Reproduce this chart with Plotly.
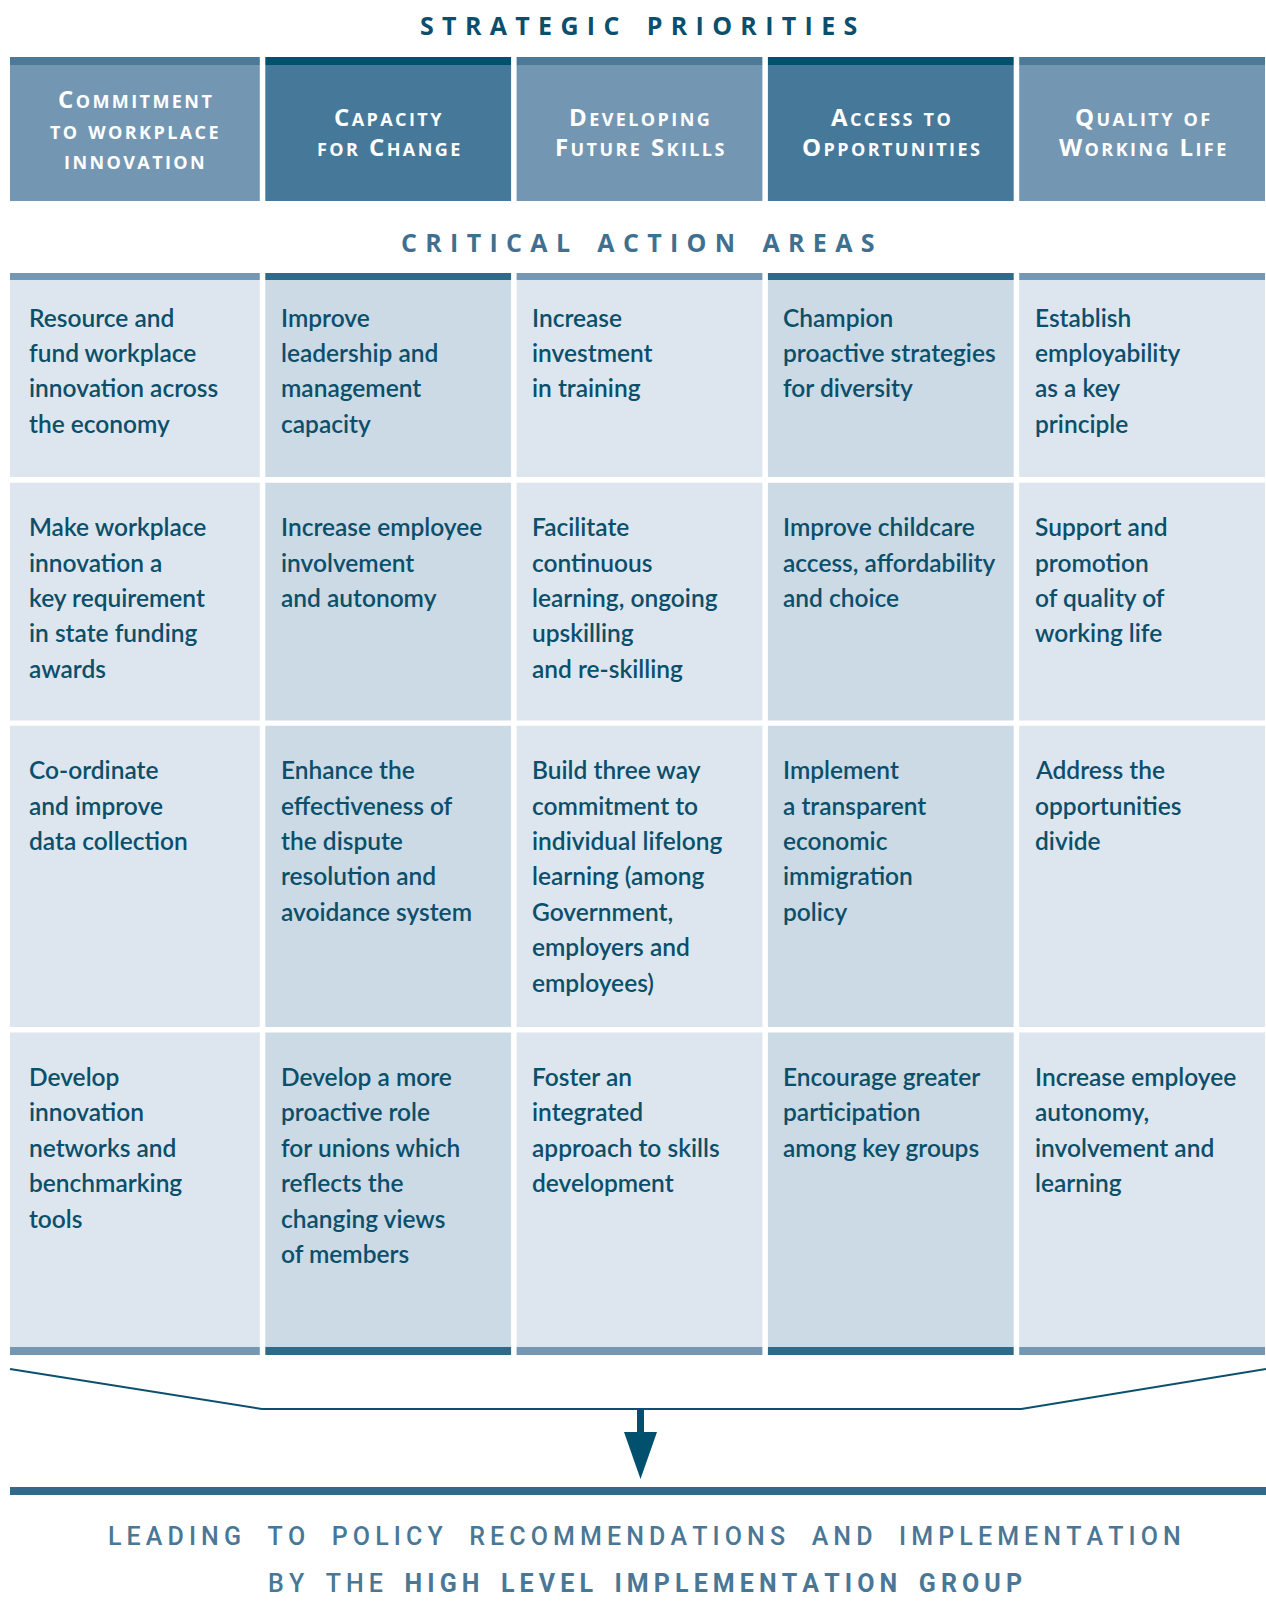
import plotly.graph_objects as go

# ---------------- data ----------------
title_top = "STRATEGIC PRIORITIES"
title_mid = "CRITICAL ACTION AREAS"
footer_line1 = "LEADING TO POLICY RECOMMENDATIONS AND IMPLEMENTATION"
footer_line2_plain = "BY THE"
footer_line2_bold = "HIGH LEVEL IMPLEMENTATION GROUP"

priorities = [
    ["Commitment", "to workplace", "innovation"],
    ["Capacity", "for Change"],
    ["Developing", "Future Skills"],
    ["Access to", "Opportunities"],
    ["Quality of", "Working Life"],
]

actions_workplace_innovation = [
    ["Resource and", "fund workplace", "innovation across", "the economy"],
    ["Make workplace", "innovation a", "key requirement", "in state funding", "awards"],
    ["Co-ordinate", "and improve", "data collection"],
    ["Develop", "innovation", "networks and", "benchmarking", "tools"],
]
actions_capacity_change = [
    ["Improve", "leadership and", "management", "capacity"],
    ["Increase employee", "involvement", "and autonomy"],
    ["Enhance the", "effectiveness of", "the dispute", "resolution and", "avoidance system"],
    ["Develop a more", "proactive role", "for unions which", "reflects the", "changing views", "of members"],
]
actions_future_skills = [
    ["Increase", "investment", "in training"],
    ["Facilitate", "continuous", "learning, ongoing", "upskilling", "and re-skilling"],
    ["Build three way", "commitment to", "individual lifelong", "learning (among", "Government,", "employers and", "employees)"],
    ["Foster an", "integrated", "approach to skills", "development"],
]
actions_access = [
    ["Champion", "proactive strategies", "for diversity"],
    ["Improve childcare", "access, affordability", "and choice"],
    ["Implement", "a transparent", "economic", "immigration", "policy"],
    ["Encourage greater", "participation", "among key groups"],
]
actions_quality = [
    ["Establish", "employability", "as a key", "principle"],
    ["Support and", "promotion", "of quality of", "working life"],
    ["Address the", "opportunities", "divide"],
    ["Increase employee", "autonomy,", "involvement and", "learning"],
]
columns_actions = [actions_workplace_innovation, actions_capacity_change,
                   actions_future_skills, actions_access, actions_quality]
column_tone = ["light", "dark", "light", "dark", "light"]

# ---------------- styling / layout ----------------
W, H = 1266, 1621
HEAD = {"light": "#7397b3", "dark": "#46789a"}
HEAD_BAR = {"light": "#4b7a99", "dark": "#01506e"}
CELL = {"light": "#dde6ee", "dark": "#cbdae5"}
CELL_BAR = {"light": "#7498b3", "dark": "#306a8a"}
TEXT = "#0b4f6b"
TITLE1 = "#0b4f6c"
TITLE2 = "#3f7090"
FOOT = "#4a7796"
BODY_FONT = "Lato"
HEAD_FONT = "Open Sans"

pitch, colw, first_left = 251.3, 245.8, 14.0
lefts = [first_left + i * pitch for i in range(5)]
rights = [l + colw for l in lefts]
lefts[0] = 10.0

head_bar = (57, 65)
head_body = (65, 201)
body_bar = (273, 280)
rows = [(280, 477), (482.7, 720.5), (725.7, 1027), (1032.5, 1347)]
row_text_top = [273, 482.7, 725.7, 1032.5]
bottom_bar = (1347, 1355)
line_gap = 35.4
first_line_off = 44

shapes = []
annotations = []


def rect(x0, x1, y0, y1, color):
    shapes.append(dict(type="rect", xref="x", yref="y", x0=x0, x1=x1, y0=y0, y1=y1,
                       fillcolor=color, line=dict(width=0), layer="below"))


def spaced(s, gap="\u2009", word="\u2009\u2009 \u2009\u2009"):
    return word.join(gap.join(list(w)) for w in s.split(" "))


def small_caps(s, big=24, small=18, gap="\u200a"):
    out = []
    for w in s.split(" "):
        parts = []
        for ch in w:
            if ch.isupper():
                parts.append(f'<span style="font-size:{big}px">{ch}</span>')
            else:
                parts.append(f'<span style="font-size:{small}px">{ch.upper()}</span>')
        out.append(gap.join(parts))
    return (gap + " " + gap).join(out)


for i in range(5):
    tone = column_tone[i]
    L, R = lefts[i], rights[i]
    rect(L, R, *head_bar, HEAD_BAR[tone])
    rect(L, R, *head_body, HEAD[tone])
    rect(L, R, *body_bar, CELL_BAR[tone])
    for (y0, y1) in rows:
        rect(L, R, y0, y1, CELL[tone])
    rect(L, R, *bottom_bar, CELL_BAR[tone])

    # header text
    lines = priorities[i]
    cx = (L + R) / 2 if i > 0 else (first_left + R) / 2 - 2
    n = len(lines)
    hc, hs = (129, 30.3) if n == 3 else (131.5, 29.5)
    for k, t in enumerate(lines):
        annotations.append(dict(x=cx, y=hc + (k - (n - 1) / 2) * hs, text=small_caps(t), showarrow=False,
                                xanchor="center", yanchor="middle",
                                font=dict(family=HEAD_FONT, size=24, color="white", weight="bold")))
    # body text
    tx = (lefts[i] if i > 0 else first_left) + 13.4
    for r, cell in enumerate(columns_actions[i]):
        for k, t in enumerate(cell):
            annotations.append(dict(x=tx, y=row_text_top[r] + first_line_off + k * line_gap,
                                    text=t, showarrow=False, xanchor="left", yanchor="middle",
                                    font=dict(family=BODY_FONT, size=24.5, color=TEXT, weight=600)))

# titles
annotations.append(dict(x=638, y=24.5, text=spaced(title_top, gap="\u2004", word="\u2004 \u2004\u2009"),
                        showarrow=False, xanchor="center", yanchor="middle",
                        font=dict(family="Open Sans", size=25, color=TITLE1, weight="bold")))
annotations.append(dict(x=638, y=241.7, text=spaced(title_mid, gap="\u2004", word="\u2004 \u2004\u2009"),
                        showarrow=False, xanchor="center", yanchor="middle",
                        font=dict(family="Open Sans", size=25, color=TITLE2, weight="bold")))

# funnel
fx = [10, rights[0] + 2, lefts[4] + 2, 1266]
fy = [1369, 1409, 1409, 1369]
shapes.append(dict(type="path", xref="x", yref="y",
                   path=f"M {fx[0]},{fy[0]} L {fx[1]},{fy[1]} L {fx[2]},{fy[2]} L {fx[3]},{fy[3]}",
                   line=dict(color="#0b506e", width=2), fillcolor="rgba(0,0,0,0)"))
cx = 640.5
shapes.append(dict(type="rect", xref="x", yref="y", x0=cx - 3.5, x1=cx + 3.5, y0=1409, y1=1436,
                   fillcolor="#00506e", line=dict(width=0)))
shapes.append(dict(type="path", xref="x", yref="y",
                   path=f"M {cx-16.5},1432 L {cx+16.5},1432 L {cx},1479 Z",
                   fillcolor="#00506e", line=dict(width=0)))
rect(10, 1266, 1487, 1495, "#306a8a")

# footer
g1, w1 = "\u2009", "\u2009\u2009 \u2009\u2009"
annotations.append(dict(x=644, y=1536, text=spaced(footer_line1, gap=g1, word=w1),
                        showarrow=False, xanchor="center", yanchor="middle",
                        font=dict(family="Roboto", size=25, color=FOOT, weight=500)))
annotations.append(dict(x=645, y=1583,
                        text=spaced(footer_line2_plain, gap=g1, word="\u2009 \u2009\u2009")
                        + "\u2009 \u2009\u2009<b>" + spaced(footer_line2_bold, gap="\u2009", word="\u2009\u2009 \u2009") + "</b>",
                        showarrow=False, xanchor="center", yanchor="middle",
                        font=dict(family="Roboto", size=25, color=FOOT, weight=500)))

fig = go.Figure()
fig.update_layout(
    width=W, height=H,
    margin=dict(l=0, r=0, t=0, b=0),
    paper_bgcolor="white", plot_bgcolor="white",
    xaxis=dict(range=[0, W], visible=False, fixedrange=True),
    yaxis=dict(range=[H, 0], visible=False, fixedrange=True),
    shapes=shapes, annotations=annotations, showlegend=False,
)
fig.write_html("out.html", config={"displayModeBar": False},
               post_script="document.body.style.margin='0';document.documentElement.style.overflow='hidden';document.body.style.overflow='hidden';")
